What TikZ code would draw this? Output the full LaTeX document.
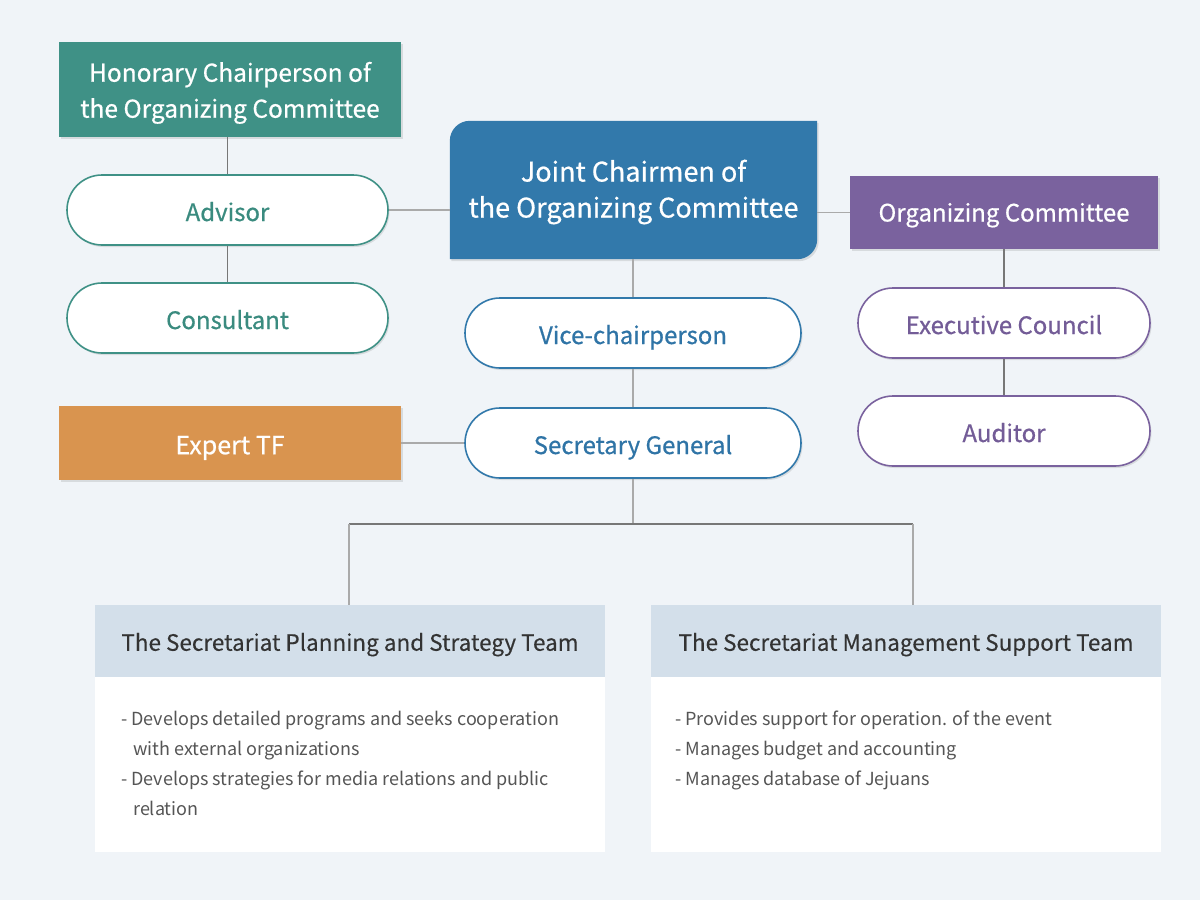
\documentclass[tikz,border=0pt]{standalone}
\usepackage{fontspec}
\setmainfont{Noto Sans CJK KR}
\newfontfamily\medfont[RawFeature={embolden=0.6}]{Noto Sans CJK KR}
\newfontfamily\semifont[RawFeature={embolden=0.25}]{Noto Sans CJK KR}
\usetikzlibrary{shadows}
\definecolor{cBg}{HTML}{F0F4F8}
\definecolor{cTeal}{HTML}{3F9186}
\definecolor{cTealTxt}{HTML}{3A8B7F}
\definecolor{cBlue}{HTML}{3279AB}
\definecolor{cBlueTxt}{HTML}{2F74A6}
\definecolor{cPurple}{HTML}{7A629E}
\definecolor{cPurpleTxt}{HTML}{735C97}
\definecolor{cOrange}{HTML}{D9944F}
\definecolor{cHead}{HTML}{D3DFEA}
\definecolor{cHeadTxt}{HTML}{333333}
\definecolor{cBodyTxt}{HTML}{555555}
\definecolor{cLineDk}{HTML}{777777}
\definecolor{cLineLt}{HTML}{AAAAAA}
\begin{document}
\begin{tikzpicture}[x=1pt,y=-1pt,
  shad/.style={drop shadow={shadow xshift=1.5pt,shadow yshift=-2pt,opacity=0.10,fill=black}},
  sqbox/.style={rectangle,inner sep=0pt,text=white,align=center,shad},
  pill/.style={rectangle,rounded corners=35pt,fill=white,line width=1.6pt,inner sep=0pt,minimum height=70pt,shad,text height=22pt,text depth=0pt,font=\medfont\fontsize{24pt}{30pt}\selectfont},
  lnDk/.style={draw=cLineDk,line width=1.2pt},
  lnLt/.style={draw=cLineLt,line width=1.2pt},
  thead/.style={rectangle,inner sep=0pt,fill=cHead,minimum width=510pt,minimum height=72pt,text=cHeadTxt,text height=19.5pt,text depth=0pt,font=\semifont\fontsize{22.5pt}{28pt}\selectfont},
  tbody/.style={rectangle,inner sep=0pt,fill=white,minimum width=510pt,minimum height=175pt},
  ttext/.style={inner sep=0pt,anchor=north west,align=left,text=cBodyTxt,font=\fontsize{18pt}{30pt}\selectfont}
]
\fill[cBg] (0,0) rectangle (1200,900);
\useasboundingbox (0,0) rectangle (1200,900);

% left column
\node[sqbox,fill=cTeal,minimum width=342pt,minimum height=95pt,font=\medfont\fontsize{24.5pt}{36pt}\selectfont] (hon) at (230,89.5) {\rule{0pt}{26.5pt}Honorary Chairperson of\\the Organizing Committee};
\node[pill,draw=cTeal,text=cTealTxt,minimum width=321pt] (adv) at (227.5,210) {Advisor};
\node[pill,draw=cTeal,text=cTealTxt,minimum width=321pt] (con) at (227.5,318) {Consultant};
\node[sqbox,fill=cOrange,minimum width=342pt,minimum height=74pt,text height=22.4pt,text depth=0pt,font=\medfont\fontsize{25pt}{30pt}\selectfont] (exp) at (230,443) {Expert TF};

% centre column
\path node[inner sep=0pt,minimum width=367pt,minimum height=138pt] (joint) at (633.5,190) {};
\fill[cBlue,shad] (joint.south west) -- ([yshift=-20pt]joint.north west) arc[start angle=180,end angle=90,radius=20pt] -- (joint.north east) -- ([yshift=20pt]joint.south east) arc[start angle=0,end angle=-90,radius=20pt] -- cycle;
\node[text=white,align=center,inner sep=0pt,font=\medfont\fontsize{27pt}{36pt}\selectfont] (jointlabel) at (633.5,192) {Joint Chairmen of\\the Organizing Committee};
\node[pill,draw=cBlue,text=cBlueTxt,minimum width=336pt] (vice) at (633,333) {Vice-chairperson};
\node[pill,draw=cBlue,text=cBlueTxt,minimum width=336pt] (sg) at (633,443) {Secretary General};

% right column
\node[sqbox,fill=cPurple,minimum width=308pt,minimum height=73pt,text height=18pt,text depth=0pt,font=\medfont\fontsize{24pt}{30pt}\selectfont] (org) at (1004,212.5) {Organizing Committee};
\node[pill,draw=cPurple,text=cPurpleTxt,minimum width=292pt] (exe) at (1004,323) {Executive Council};
\node[pill,draw=cPurple,text=cPurpleTxt,minimum width=292pt] (aud) at (1004,431) {Auditor};

% teams
\node[thead] (thL) at (350,641) {The Secretariat Planning and Strategy Team};
\node[tbody] (tbL) at (350,764.5) {};
\node[ttext] (txL) at (121,711) {- Develops detailed programs and seeks cooperation\\\hspace*{12pt}with external organizations\\- Develops strategies for media relations and public\\\hspace*{12pt}relation};
\node[thead] (thR) at (906,641) {The Secretariat Management Support Team};
\node[tbody] (tbR) at (906,764.5) {};
\node[ttext] (txR) at (675,711) {- Provides support for operation. of the event\\- Manages budget and accounting\\- Manages database of Jejuans};

% connectors
\draw[lnDk] (adv.north) -- (adv.north |- hon.south);
\draw[lnDk] (con.north) -- (con.north |- adv.south);
\draw[lnLt] (adv.east) -- (adv.east -| joint.west);
\draw[lnLt] (org.west) -- (org.west -| joint.east);
\draw[lnDk] (exe.north) -- (exe.north |- org.south);
\draw[lnDk] (aud.north) -- (aud.north |- exe.south);
\draw[lnLt] (vice.north) -- (vice.north |- joint.south);
\draw[lnLt] (sg.north) -- (sg.north |- vice.south);
\draw[lnLt] (exp.east) -- (exp.east -| sg.west);
\coordinate (br) at (633,524);
\coordinate (brL) at (349,524);
\coordinate (brR) at (913,524);
\draw[lnLt] (sg.south) -- (br);
\draw[lnDk] (brL) -- (brR);
\draw[lnLt] (brL) -- (brL |- thL.north);
\draw[lnLt] (brR) -- (brR |- thR.north);
\end{tikzpicture}
\end{document}
